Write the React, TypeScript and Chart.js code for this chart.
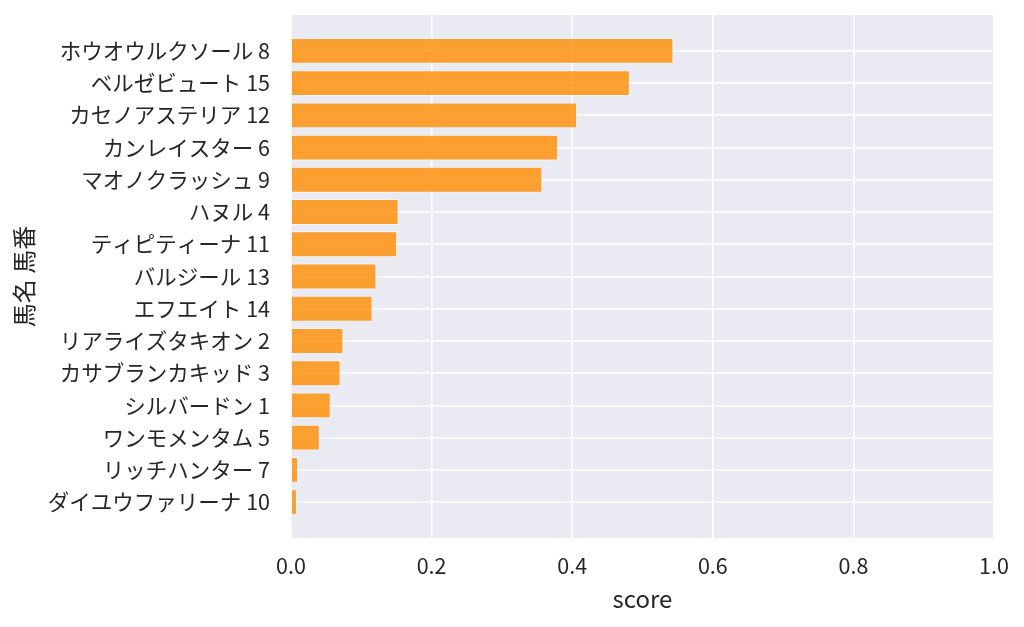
import { useEffect, useRef } from "react";
import { Chart, registerables } from "chart.js";

Chart.register(...registerables);

// 馬名 馬番, top to bottom
const horses = [
  "ホウオウルクソール 8",
  "ベルゼビュート 15",
  "カセノアステリア 12",
  "カンレイスター 6",
  "マオノクラッシュ 9",
  "ハヌル 4",
  "ティピティーナ 11",
  "バルジール 13",
  "エフエイト 14",
  "リアライズタキオン 2",
  "カサブランカキッド 3",
  "シルバードン 1",
  "ワンモメンタム 5",
  "リッチハンター 7",
  "ダイユウファリーナ 10",
];

const scores = [
  0.544, 0.482, 0.407, 0.38, 0.3575, 0.153, 0.151, 0.1215, 0.116, 0.0745,
  0.0705, 0.0565, 0.041, 0.01, 0.0085,
];

const xTicks = [0, 0.2, 0.4, 0.6, 0.8, 1.0];

const FONT = "'Noto Sans CJK JP', 'Noto Sans', sans-serif";
const TEXT = "#262626";

const plotBackground = {
  id: "plotBackground",
  beforeDraw(chart: Chart) {
    const { ctx, chartArea } = chart;
    ctx.save();
    ctx.fillStyle = "#eaeaf2";
    ctx.fillRect(
      chartArea.left,
      chartArea.top,
      chartArea.right - chartArea.left,
      chartArea.bottom - chartArea.top
    );
    ctx.restore();
  },
};

export default function App() {
  const canvasRef = useRef<HTMLCanvasElement>(null);
  const chartRef = useRef<Chart | null>(null);

  useEffect(() => {
    document.body.style.margin = "0";
    if (!canvasRef.current) return;
    if (chartRef.current) chartRef.current.destroy();

    chartRef.current = new Chart(canvasRef.current, {
      type: "bar",
      data: {
        datasets: [
          {
            data: scores.map((v, i) => ({ x: v, y: i })),
            backgroundColor: "rgba(255, 140, 0, 0.8)",
            borderColor: "rgba(255, 255, 255, 0.55)",
            borderWidth: 1,
            barPercentage: 0.8,
            categoryPercentage: 1,
          },
        ],
      },
      options: {
        indexAxis: "y",
        animation: false,
        responsive: false,
        layout: { padding: { top: 15, right: 30, left: 0, bottom: 0 } },
        plugins: {
          legend: { display: false },
          tooltip: { enabled: false },
        },
        scales: {
          x: {
            type: "linear",
            min: 0,
            max: 1,
            afterBuildTicks: (scale: any) => {
              scale.ticks = xTicks.map((value) => ({ value }));
            },
            afterFit: (scale: any) => {
              scale.height = 89;
              scale.paddingLeft = 0;
              scale.paddingRight = 0;
            },
            grid: { color: "#ffffff", lineWidth: 1.6, drawTicks: false },
            border: { display: false },
            ticks: {
              padding: 15,
              color: TEXT,
              font: { family: FONT, size: 21.5 },
              callback: (v: any) => Number(v).toFixed(1),
            },
            title: {
              display: true,
              text: "score",
              color: TEXT,
              font: { family: FONT, size: 24 },
              padding: { top: 0, bottom: 14 },
            },
          },
          y: {
            type: "linear",
            reverse: true,
            offset: false,
            min: -1.11,
            max: horses.length - 1 + 1.11,
            afterBuildTicks: (scale: any) => {
              scale.ticks = horses.map((_, i) => ({ value: i }));
            },
            afterFit: (scale: any) => {
              scale.width = 291;
              scale.paddingTop = 0;
              scale.paddingBottom = 0;
            },
            grid: {
              color: "#ffffff",
              lineWidth: 1.6,
              drawTicks: false,
              offset: false,
            },
            border: { display: false },
            ticks: {
              padding: 21,
              color: TEXT,
              font: { family: FONT, size: 21.5 },
              callback: (v: any) => horses[Math.round(Number(v))] ?? "",
            },
            title: {
              display: true,
              text: "馬名 馬番",
              color: TEXT,
              font: { family: FONT, size: 24 },
              padding: { top: 9, bottom: 0 },
            },
          },
        },
      },
      plugins: [plotBackground],
    });

    return () => {
      if (chartRef.current) {
        chartRef.current.destroy();
        chartRef.current = null;
      }
    };
  }, []);

  return (
    <div style={{ width: 1024, height: 627, background: "#ffffff" }}>
      <canvas ref={canvasRef} width={1024} height={627}></canvas>
    </div>
  );
}
